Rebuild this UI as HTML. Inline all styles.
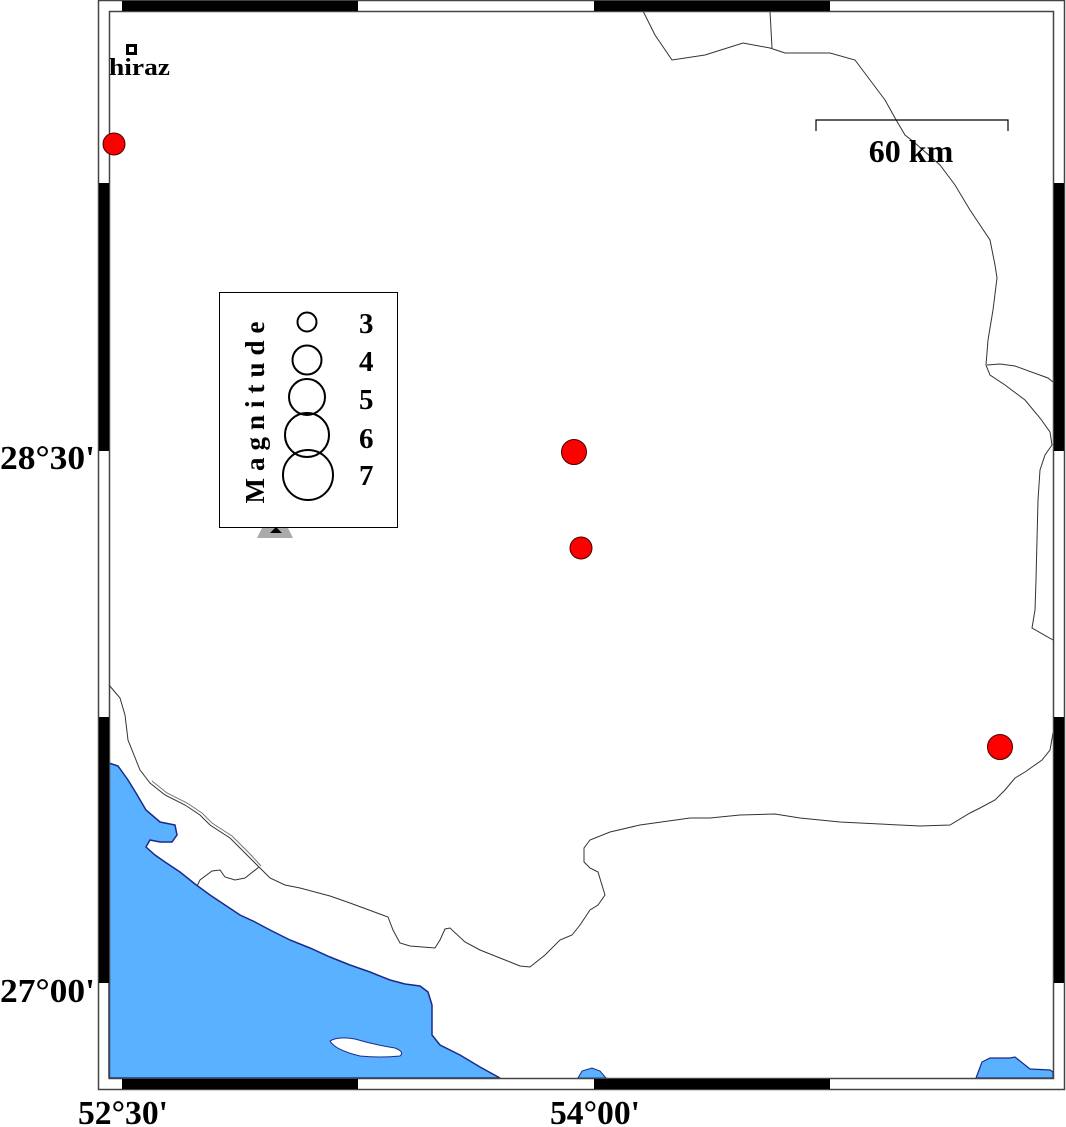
<!DOCTYPE html>
<html><head><meta charset="utf-8"><style>
html,body{margin:0;padding:0;background:#fff;}
svg{display:block;}
text{font-family:"Liberation Serif",serif;font-weight:bold;fill:#000;}
</style></head><body>
<svg width="1066" height="1127" viewBox="0 0 1066 1127" xmlns="http://www.w3.org/2000/svg">
<rect x="0" y="0" width="1066" height="1127" fill="#fff"/>
<path d="M109,763 L118,766 L128,780 L136,793 L146,810 L160,822 L175,825 L177,835 L172,842 L160,842 L150,840 L146,847 L155,855 L165,862 L180,872 L195,884 L210,895 L225,905 L240,915 L255,922 L270,930 L290,940 L310,948 L330,957 L350,965 L370,972 L390,980 L405,984 L420,986 L428,992 L432,1005 L432,1035 L440,1045 L460,1055 L480,1067 L500,1078 L109,1078 Z" fill="#5ab1ff" stroke="#1a2a8a" stroke-width="1.5"/>
<path d="M330,1041 Q338,1036 355,1039 Q375,1045 395,1048 Q405,1052 400,1056 Q380,1058 360,1056 Q335,1050 330,1041 Z" fill="#fff" stroke="#1a2a8a" stroke-width="1"/>
<path d="M578,1078 L582,1071 L592,1068 L600,1071 L606,1078 Z" fill="#5ab1ff" stroke="#1a2a8a" stroke-width="1"/>
<path d="M976,1078 L982,1062 L990,1058 L1010,1058 L1015,1057 L1025,1065 L1030,1069 L1050,1070 L1053,1072 L1053,1078 Z" fill="#5ab1ff" stroke="#1a2a8a" stroke-width="1.2"/>
<g fill="none" stroke="#333" stroke-width="1">
<path d="M643,11 L655,35 L672,60 L705,55 L743,43 L770,48 L785,53 L830,53 L855,60 L870,80 L885,100 L895,118 L905,135 L915,143 L940,165 L955,185 L970,210 L990,240 L995,265 L997,278 L993,310 L988,340 L986,365 L990,375 L1005,385 L1025,400 L1040,418 L1050,432 L1052,445 L1045,455 L1040,470 L1038,500 L1037,540 L1036,580 L1035,610 L1032,628 L1053,640"/>
<path d="M770,11 L772,48"/>
<path d="M987,365 L1000,364 L1015,366 L1048,378 L1053,382"/>
<path d="M1053,733 L1050,750 L1042,760 L1025,772 L1015,778 L1005,790 L995,800 L980,808 L970,813 L950,825 L920,826 L840,822 L800,818 L775,814 L740,815 L710,818 L690,818 L640,825 L610,832 L590,840 L584,848 L584,862 L590,868 L598,872 L605,895 L598,905 L590,910 L580,925 L572,935 L560,940 L545,955 L530,967 L520,966 L500,958 L480,950 L465,942 L450,928 L445,929 L440,940 L435,948 L410,946 L400,943 L393,930 L388,917 L350,903 L330,896 L300,888 L285,885 L270,878 L259,867"/>
<path d="M259,867 L250,858 L240,848 L230,838 L210,825 L200,815 L185,805 L165,795 L150,783 L140,770 L128,740 L125,715 L120,698 L109,685"/>
<path d="M261,866 L252,856 L242,846 L232,836 L212,823 L202,813 L187,803 L167,793 L152,781" stroke="#777"/>
<path d="M259,867 L245,878 L235,880 L225,877 L220,870 L212,871 L200,880 L197,886"/>
</g>
<rect x="98.5" y="0.5" width="966" height="1089" fill="none" stroke="#444" stroke-width="1.5"/>
<rect x="109.5" y="11.5" width="944" height="1067" fill="none" stroke="#444" stroke-width="1.5"/>
<g fill="#000">
<rect x="122" y="1" width="236" height="10"/><rect x="594" y="1" width="236" height="10"/>
<rect x="122" y="1079" width="236" height="10"/><rect x="594" y="1079" width="236" height="10"/>
<rect x="99" y="183" width="10" height="268"/><rect x="99" y="717" width="10" height="266"/>
<rect x="1054" y="183" width="10" height="268"/><rect x="1054" y="717" width="10" height="266"/>
</g>
<g fill="#f00" stroke="#400" stroke-width="1">
<circle cx="114" cy="144" r="11"/>
<circle cx="574" cy="452" r="12.5"/>
<circle cx="581" cy="548" r="11"/>
<circle cx="1000" cy="747" r="12.5"/>
</g>
<rect x="126" y="44" width="11" height="11" fill="#000"/>
<rect x="129" y="47" width="5" height="5" fill="#fff"/>
<text x="109" y="75" font-size="24" textLength="61" lengthAdjust="spacingAndGlyphs">hiraz</text>
<path d="M816,131 V120 H1008 V131" fill="none" stroke="#000" stroke-width="1.2"/>
<text x="911" y="162" font-size="32" text-anchor="middle">60 km</text>
<path d="M262,528 L288,528 L293,538 L257,538 Z" fill="#aaa"/>
<path d="M270,533 L276,527 L282,533 Z" fill="#000"/>
<rect x="219.5" y="292.5" width="178" height="235" fill="#fff" stroke="#000" stroke-width="1"/>
<text transform="translate(264,409) rotate(-90)" font-size="27" text-anchor="middle" letter-spacing="7">Magnitude</text>
<g fill="none" stroke="#000" stroke-width="2">
<circle cx="307" cy="322" r="9.5"/>
<circle cx="307" cy="360" r="14.5"/>
<circle cx="307" cy="397" r="18"/>
<circle cx="307" cy="435" r="22"/>
<circle cx="308" cy="475" r="25"/>
</g>
<g font-size="29">
<text x="359" y="333">3</text>
<text x="359" y="371">4</text>
<text x="359" y="409">5</text>
<text x="359" y="448">6</text>
<text x="359" y="485">7</text>
</g>
<g font-size="34">
<text x="0" y="469" textLength="95" lengthAdjust="spacingAndGlyphs">28°30'</text>
<text x="0" y="1002" textLength="95" lengthAdjust="spacingAndGlyphs">27°00'</text>
<text x="78" y="1124" textLength="90" lengthAdjust="spacingAndGlyphs">52°30'</text>
<text x="550" y="1124" textLength="90" lengthAdjust="spacingAndGlyphs">54°00'</text>
</g>
</svg>
</body></html>
